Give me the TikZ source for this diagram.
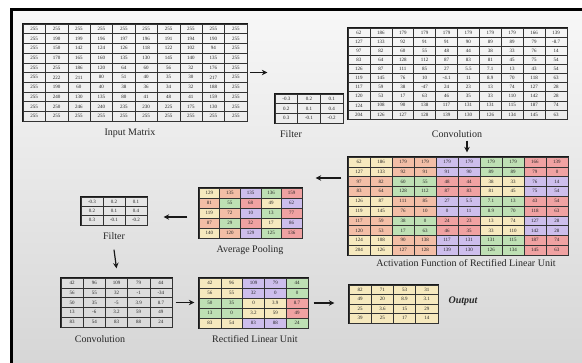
\documentclass[tikz,border=0pt]{standalone}
\usepackage{fontspec}
\setmainfont{Liberation Serif}
\usetikzlibrary{matrix,arrows.meta}
\definecolor{ccream}{HTML}{F6E9BE}
\definecolor{csalmon}{HTML}{F3BEA6}
\definecolor{cpurple}{HTML}{CDBEEC}
\definecolor{cgreen}{HTML}{BEE0B4}
\definecolor{cred}{HTML}{F0A2A2}
\tikzset{
  mat/.style 2 args={matrix of nodes, inner sep=0pt, draw=black!90, line width=0.8pt,
    column sep=-0.5pt, row sep=-0.5pt,
    nodes={draw=black!80, line width=0.5pt, inner sep=0pt, anchor=center,
      minimum width=#1, minimum height=#2,
      font=\fontsize{5}{5.5}\selectfont, text=black!85}},
  cC/.style={fill=ccream}, cS/.style={fill=csalmon}, cP/.style={fill=cpurple},
  cG/.style={fill=cgreen}, cR/.style={fill=cred},
  lbl/.style={font=\fontsize{10}{12}\selectfont, text=black!85, inner sep=1pt},
  arr/.style={line width=1.2pt, black!90, -{Stealth[length=5.5pt,width=5.5pt]}}
}
\begin{document}
\begin{tikzpicture}[x=1pt,y=-1pt]
\useasboundingbox (0,0) rectangle (582,363);
\fill[white] (0,0) rectangle (582,363);
\shade[top color=black!3, bottom color=black!16] (12,10) rectangle (582,363);
\fill[black] (10,8) rectangle (582,11);
\fill[black] (10,8) rectangle (13,363);

% Input matrix
\matrix (inp) [mat={22.4pt}{9.7pt}] at (135,72.5) {
255 & 255 & 255 & 255 & 255 & 255 & 255 & 255 & 255 & 255\\
255 & 190 & 199 & 196 & 197 & 196 & 191 & 194 & 190 & 255\\
255 & 150 & 142 & 124 & 126 & 118 & 122 & 102 & 94 & 255\\
255 & 170 & 165 & 160 & 135 & 130 & 145 & 140 & 135 & 255\\
255 & 255 & 186 & 120 & 64 & 60 & 56 & 32 & 176 & 255\\
255 & 222 & 211 & 80 & 51 & 40 & 35 & 30 & 217 & 255\\
255 & 190 & 60 & 40 & 38 & 36 & 34 & 32 & 188 & 255\\
255 & 240 & 130 & 135 & 80 & 41 & 48 & 41 & 159 & 255\\
255 & 250 & 246 & 240 & 235 & 230 & 225 & 175 & 130 & 255\\
255 & 255 & 255 & 255 & 255 & 255 & 255 & 255 & 255 & 255\\
};
\node[lbl] (inplbl) at (130,133) {Input Matrix};

% Filter 1
\matrix (f1) [mat={22.7pt}{9.6pt}] at (309,108.5) {
-0.3 & 0.2 & 0.1\\
0.2 & 0.1 & 0.4\\
0.3 & -0.1 & -0.2\\
};
\node[lbl] (f1lbl) at (291,134) {Filter};

% Convolution (top)
\matrix (cv1) [mat={21.9pt}{9.1pt}] at (457.5,73.5) {
62 & 186 & 179 & 179 & 179 & 179 & 179 & 179 & 166 & 139\\
127 & 133 & 92 & 91 & 91 & 90 & 89 & 89 & 79 & -8.7\\
97 & 82 & 60 & 55 & 48 & 44 & 38 & 33 & 76 & 14\\
83 & 64 & 128 & 112 & 87 & 83 & 81 & 45 & 75 & 54\\
126 & 87 & 111 & 85 & 27 & 5.5 & 7.1 & 13 & 43 & 54\\
119 & 145 & 76 & 10 & -4.1 & 11 & 8.9 & 70 & 118 & 63\\
117 & 59 & 38 & -47 & 24 & 23 & 13 & 74 & 127 & 28\\
120 & 53 & 17 & 63 & 46 & 35 & 33 & 110 & 142 & 28\\
124 & 108 & 90 & 138 & 117 & 131 & 131 & 115 & 187 & 74\\
204 & 126 & 127 & 128 & 139 & 130 & 126 & 134 & 145 & 63\\
};
\node[lbl] (cv1lbl) at (457,134) {Convolution};

% Activation
\matrix (act) [mat={22pt}{9.8pt}] at (458,206) {
|[cC]|62 & |[cC]|186 & |[cS]|179 & |[cS]|179 & |[cP]|179 & |[cP]|179 & |[cG]|179 & |[cG]|179 & |[cR]|166 & |[cR]|139\\
|[cC]|127 & |[cC]|133 & |[cS]|92 & |[cS]|91 & |[cP]|91 & |[cP]|90 & |[cG]|89 & |[cG]|89 & |[cR]|79 & |[cR]|0\\
|[cS]|97 & |[cS]|82 & |[cG]|60 & |[cG]|55 & |[cR]|48 & |[cR]|44 & |[cC]|38 & |[cC]|33 & |[cP]|76 & |[cP]|14\\
|[cS]|83 & |[cS]|64 & |[cG]|128 & |[cG]|112 & |[cR]|87 & |[cR]|83 & |[cC]|81 & |[cC]|45 & |[cP]|75 & |[cP]|54\\
|[cC]|126 & |[cC]|87 & |[cS]|111 & |[cS]|85 & |[cP]|27 & |[cP]|5.5 & |[cG]|7.1 & |[cG]|13 & |[cR]|43 & |[cR]|54\\
|[cC]|119 & |[cC]|145 & |[cS]|76 & |[cS]|10 & |[cP]|0 & |[cP]|11 & |[cG]|8.9 & |[cG]|70 & |[cR]|118 & |[cR]|63\\
|[cS]|117 & |[cS]|59 & |[cG]|38 & |[cG]|0 & |[cR]|24 & |[cR]|23 & |[cC]|13 & |[cC]|74 & |[cP]|127 & |[cP]|28\\
|[cS]|120 & |[cS]|53 & |[cG]|17 & |[cG]|63 & |[cR]|46 & |[cR]|35 & |[cC]|33 & |[cC]|110 & |[cP]|142 & |[cP]|28\\
|[cC]|124 & |[cC]|108 & |[cS]|90 & |[cS]|138 & |[cP]|117 & |[cP]|131 & |[cG]|131 & |[cG]|115 & |[cR]|187 & |[cR]|74\\
|[cC]|204 & |[cC]|126 & |[cS]|127 & |[cS]|128 & |[cP]|139 & |[cP]|130 & |[cG]|126 & |[cG]|134 & |[cR]|145 & |[cR]|63\\
};
\node[lbl] (actlbl) at (466,263) {Activation Function of Rectified Linear Unit};

% Average pooling
\matrix (pool) [mat={20.6pt}{10pt}] at (250.5,213) {
|[cC]|129 & |[cS]|135 & |[cP]|135 & |[cG]|136 & |[cR]|159\\
|[cS]|81 & |[cG]|55 & |[cR]|68 & |[cC]|49 & |[cP]|62\\
|[cC]|119 & |[cS]|72 & |[cP]|10 & |[cG]|13 & |[cR]|77\\
|[cS]|87 & |[cG]|29 & |[cR]|32 & |[cC]|17 & |[cP]|86\\
|[cC]|140 & |[cS]|120 & |[cP]|129 & |[cG]|125 & |[cR]|136\\
};
\node[lbl] (poollbl) at (250,250) {Average Pooling};

% Filter 2
\matrix (f2) [mat={22pt}{9.3pt}] at (114,211) {
-0.3 & 0.2 & 0.1\\
0.2 & 0.1 & 0.4\\
0.3 & -0.1 & -0.2\\
};
\node[lbl] (f2lbl) at (114,236) {Filter};

% Convolution (bottom)
\matrix (cv2) [mat={22.2pt}{9.8pt}] at (116.5,302.5) {
42 & 96 & 109 & 79 & 44\\
56 & 55 & 32 & -1 & -34\\
50 & 35 & -5 & 3.9 & 8.7\\
13 & -6 & 3.2 & 59 & 49\\
83 & 54 & 83 & 88 & 24\\
};
\node[lbl] (cv2lbl) at (100,339) {Convolution};

% ReLU
\matrix (relu) [mat={21.8pt}{10pt}] at (253.5,303) {
|[cC]|42 & |[cC]|96 & |[cP]|109 & |[cP]|79 & |[cG]|44\\
|[cC]|56 & |[cC]|55 & |[cP]|32 & |[cP]|0 & |[cG]|0\\
|[cG]|50 & |[cG]|35 & |[cC]|0 & |[cC]|3.9 & |[cR]|8.7\\
|[cG]|13 & |[cG]|0 & |[cC]|3.2 & |[cC]|59 & |[cR]|49\\
|[cC]|83 & |[cC]|54 & |[cP]|83 & |[cP]|88 & |[cG]|24\\
};
\node[lbl] (relulbl) at (255,339) {Rectified Linear Unit};

% Output
\matrix (out) [mat={22.2pt}{9.5pt}] at (393.5,304) {
|[cC]|82 & |[cC]|71 & |[cC]|53 & |[cC]|31\\
|[cC]|49 & |[cC]|20 & |[cC]|8.9 & |[cC]|3.1\\
|[cC]|25 & |[cC]|3.6 & |[cC]|15 & |[cC]|29\\
|[cC]|39 & |[cC]|25 & |[cC]|17 & |[cC]|14\\
};
\node[lbl, font=\fontsize{10}{12}\selectfont\bfseries\itshape] (outlbl) at (463,301) {Output};

% Arrows
\draw[arr] ([xshift=2pt]inp.east) -- ([xshift=-80pt]cv1.west |- inp.east);
\draw[arr] ([xshift=10pt,yshift=-2pt]cv1lbl.south) -- ([xshift=9pt,yshift=4pt]act.north);
\draw[arr] ([shift={(-6,-28)}]act.west) -- ([shift={(13,-35)}]pool.east);
\draw[arr] ([shift={(-11,4)}]pool.west) -- ([shift={(16,6)}]f2.east);
\draw[arr] ([yshift=-9pt]f2lbl.south) -- ([yshift=9pt]cv2.north);
\draw[arr] ([xshift=3pt]cv2.east) -- ([xshift=-4pt]relu.west |- cv2.east);
\draw[arr] ([xshift=5pt]relu.east) -- ([xshift=-14pt]out.west |- relu.east);
\end{tikzpicture}
\end{document}
